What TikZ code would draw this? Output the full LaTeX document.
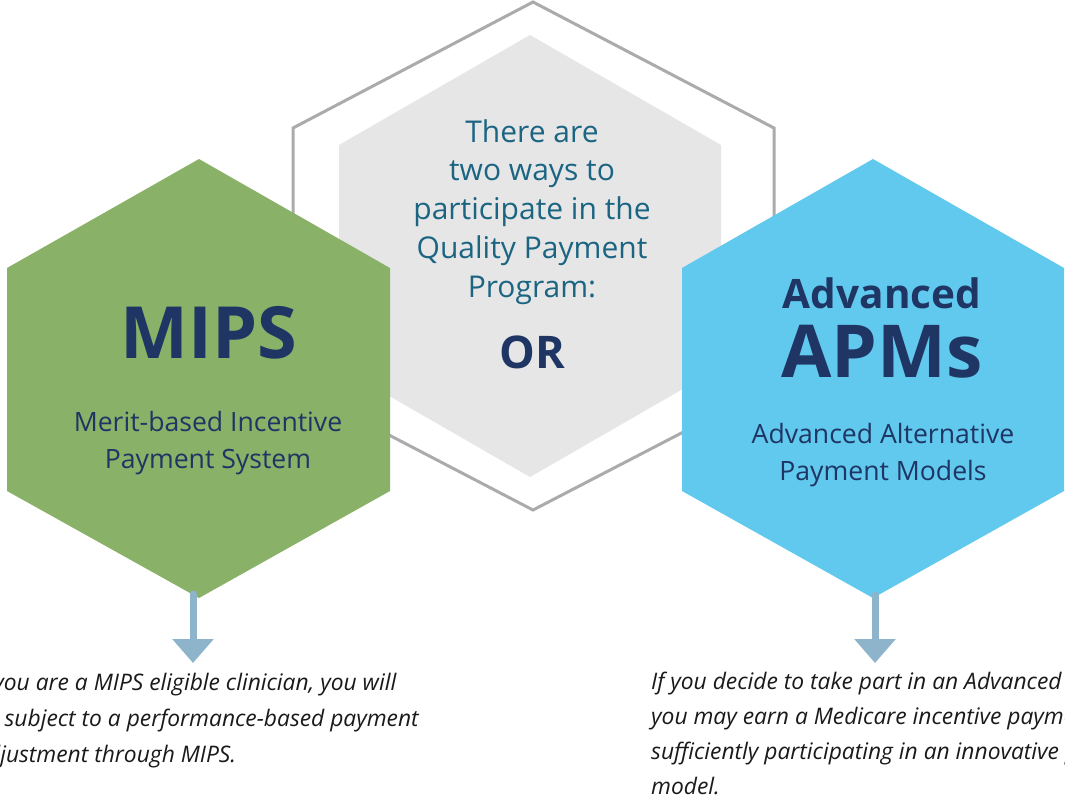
\documentclass[tikz,border=0pt]{standalone}
\usepackage{fontspec}
\setmainfont{Open Sans}
\usetikzlibrary{arrows.meta}
\definecolor{hexgreen}{HTML}{8AB168}
\definecolor{hexblue}{HTML}{61C8EE}
\definecolor{hexgray}{HTML}{E6E6E6}
\definecolor{outlinegray}{HTML}{ABABAD}
\definecolor{navytext}{HTML}{1F3564}
\definecolor{tealtext}{HTML}{1B6583}
\definecolor{arrowblue}{HTML}{8DB4CB}
\definecolor{bodytext}{HTML}{1A1A1A}
\tikzset{
  outlinehex/.style={draw=outlinegray, line width=3pt, line join=miter},
  downarrow/.style={draw=arrowblue, line width=7pt, line cap=round,
    -{Triangle[width=40pt,length=24pt]}},
  centertext/.style={anchor=base, align=center, text=tealtext,
    font=\fontsize{30}{38.75}\selectfont, inner sep=0pt},
  titletext/.style={anchor=base, align=center, text=navytext, inner sep=0pt},
  subtext/.style={anchor=base, align=center, text=navytext,
    font=\fontsize{26.6}{36.5}\selectfont, inner sep=0pt},
  notetext/.style={anchor=base west, align=left, text=bodytext, inner sep=0pt},
}
\begin{document}
\begin{tikzpicture}[x=1pt,y=-1pt]
\useasboundingbox (0,0) rectangle (1065,801);
\clip (0,0) rectangle (1065,801);
\fill[white] (0,0) rectangle (1065,801);
% outer outline hexagon
\draw[outlinehex] (533,2) -- (774,128) -- (774,385) -- (533,510) -- (293,385) -- (293,128) -- cycle;
% inner gray hexagon
\fill[hexgray] (530,35) -- (721,145) -- (721,367) -- (530,477) -- (339,367) -- (339,145) -- cycle;
% green hexagon
\fill[hexgreen] (199,159) -- (390,268) -- (390,491) -- (199,598) -- (7,491) -- (7,268) -- cycle;
% blue hexagon
\fill[hexblue] (873,159) -- (1064,268) -- (1064,491) -- (873,598) -- (682,491) -- (682,268) -- cycle;

% centre text (anchor base = baseline of last line)
\node[centertext] (intro) at (532,297) {There are\\two ways to\\participate in the\\Quality Payment\\Program:};
\node[titletext, font=\bfseries\fontsize{45}{45}\selectfont] (or) at (532,368) {OR};

% MIPS
\node[titletext, font=\bfseries\fontsize{72}{72}\selectfont] (mips) at (209,358) {MIPS};
\node[subtext] (mipsfull) at (208,468) {Merit-based Incentive\\Payment System};

% APMs
\node[titletext, font=\bfseries\fontsize{40.5}{40.5}\selectfont] (adv) at (882,308) {Advanced};
\node[titletext, font=\bfseries\fontsize{73}{73}\selectfont] (apms) at (882,377) {APMs};
\node[subtext] (apmsfull) at (883,480) {Advanced Alternative\\Payment Models};

% arrows
\coordinate (mipsfoot) at (193,594);
\coordinate (mipstip) at (193,663);
\coordinate (apmfoot) at (875,595);
\coordinate (apmtip) at (875,663);
\draw[downarrow] (mipsfoot) -- (mipstip);
\draw[downarrow] (apmfoot) -- (apmtip);

% notes
\node[notetext, font=\itshape\fontsize{22.8}{36}\selectfont] (mipsnote) at (-26,762) {If you are a MIPS eligible clinician, you will\\be subject to a performance-based payment\\adjustment through MIPS.};
\node[notetext, font=\itshape\fontsize{22.8}{34.7}\selectfont] (apmnote) at (651,794) {If you decide to take part in an Advanced APM,\\you may earn a Medicare incentive payment for\\sufficiently participating in an innovative payment\\model.};
\end{tikzpicture}
\end{document}
